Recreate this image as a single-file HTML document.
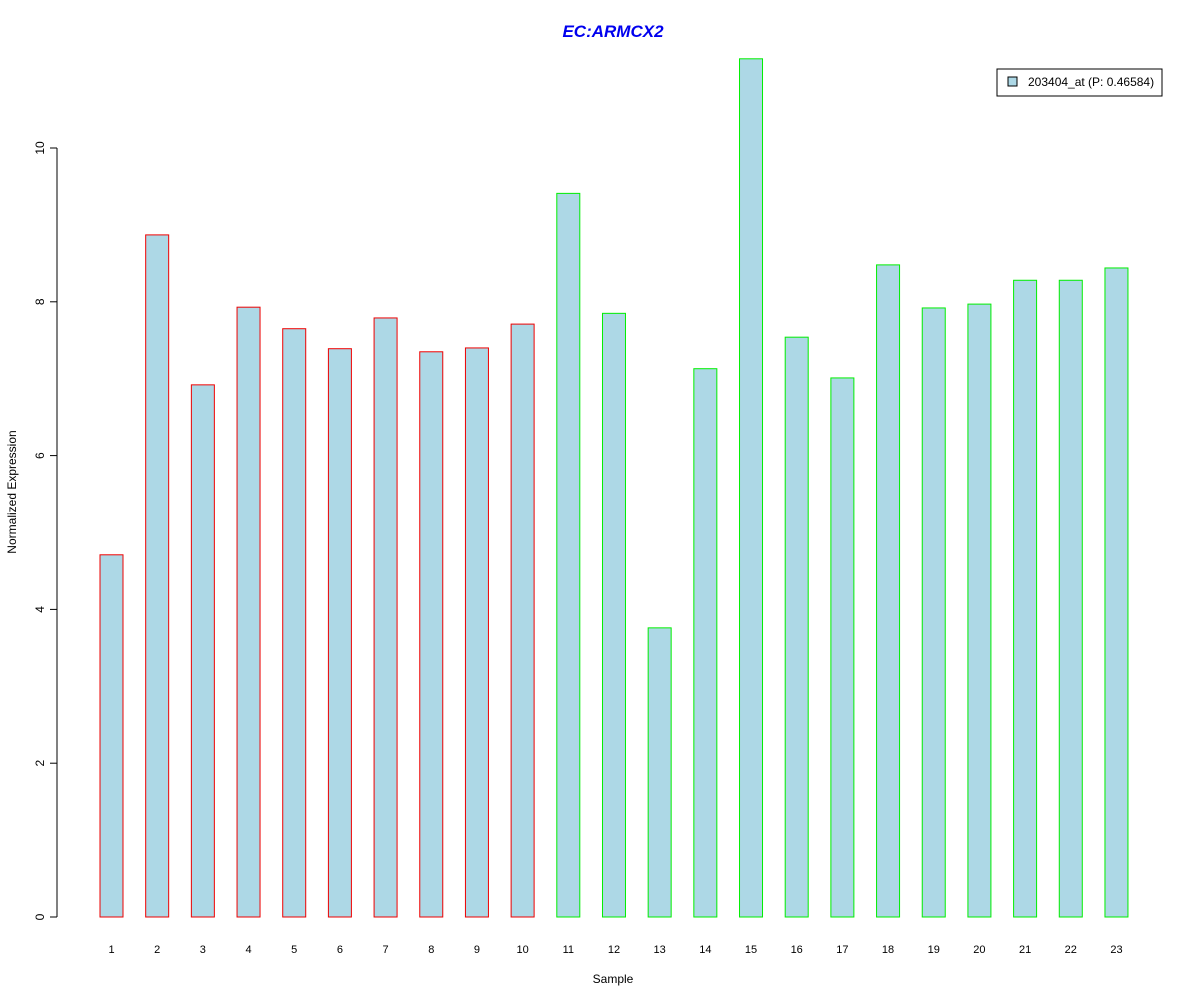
<!DOCTYPE html>
<html><head><meta charset="utf-8"><style>
body{margin:0;background:#fff;}
svg text{font-family:"Liberation Sans",Arial,sans-serif;}
</style></head><body>
<svg width="1200" height="1000" viewBox="0 0 1200 1000">
<rect width="1200" height="1000" fill="#fff"/>
<text x="613" y="37" text-anchor="middle" font-size="17" font-weight="bold" font-style="italic" fill="#0000ee">EC:ARMCX2</text>
<g id="yaxis"></g>
<g id="bars"></g>
<g id="xlabels"></g>
<text x="613" y="983" text-anchor="middle" font-size="12">Sample</text>
<text transform="translate(16,492) rotate(-90)" text-anchor="middle" font-size="12">Normalized Expression</text>
<g>
<rect x="997" y="69" width="165" height="27" fill="#fff" stroke="#000"/>
<rect x="1008" y="77" width="9" height="9" fill="#add8e6" stroke="#000"/>
<text x="1028" y="86" font-size="12">203404_at (P: 0.46584)</text>
</g>
</svg>
<script>
const categories=["1","2","3","4","5","6","7","8","9","10","11","12","13","14","15","16","17","18","19","20","21","22","23"];
const values=[4.71,8.87,6.92,7.93,7.65,7.39,7.79,7.35,7.40,7.71,9.41,7.85,3.76,7.13,11.16,7.54,7.01,8.48,7.92,7.97,8.28,8.28,8.44];
const groups=[0,0,0,0,0,0,0,0,0,0,1,1,1,1,1,1,1,1,1,1,1,1,1];
const yTicks=[0,2,4,6,8,10];
const NS="http://www.w3.org/2000/svg";
const y=v=>917-v*76.9;
const x=i=>111.5+i*45.68;
const mk=(t,a,p)=>{const e=document.createElementNS(NS,t);for(const k in a)e.setAttribute(k,a[k]);p.appendChild(e);return e;};
const ya=document.getElementById('yaxis');
const axl=mk('line',{x1:57,x2:57,y1:y(10),y2:y(0),stroke:'#000'},ya);


yTicks.forEach(t=>{
 const l=mk('line',{x1:50,x2:57,y1:y(t),y2:y(t),stroke:'#000'},ya);
 
 
 const tx=mk('text',{transform:`translate(44,${y(t)}) rotate(-90)`,'text-anchor':'middle','font-size':12},ya);
 tx.textContent=t;
 
 
});
const bg=document.getElementById('bars'),xg=document.getElementById('xlabels');
values.forEach((v,i)=>{
 const r=mk('rect',{x:x(i)-11.5,y:y(v),width:23,height:y(0)-y(v),fill:'#add8e6',stroke:groups[i]?'#00ee00':'#ee0000'},bg);
 
 
 const t=mk('text',{x:x(i),y:953,'text-anchor':'middle','font-size':11},xg);
 t.textContent=categories[i];
 
 
});
</script>
</body></html>
